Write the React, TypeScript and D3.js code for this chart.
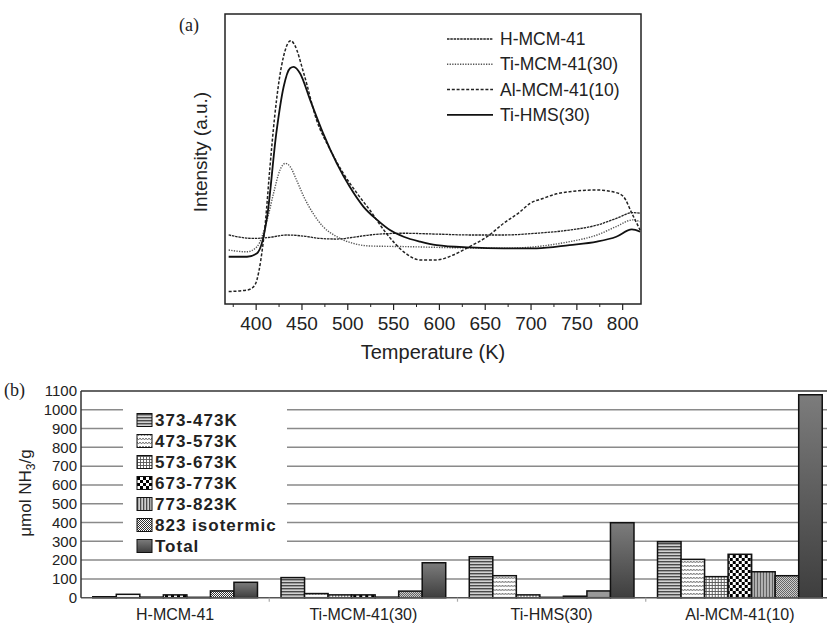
import { useLayoutEffect } from 'react';
import * as d3 from 'd3';

// (a) TPD curves: [temperature K, intensity a.u.]
const hMcm41Curve: [number, number][] = [
  [370, 23.8], [397, 22.6], [415, 23.0], [433, 23.8], [452, 23.4], [470, 22.6], [488, 22.4],
  [506, 23.0], [524, 23.8], [561, 24.4], [597, 24.1], [633, 23.8], [670, 23.8], [706, 24.4],
  [742, 25.5], [772, 27.2], [793, 29.5], [811, 31.5], [819, 31.3],
];
const tiMcm41Curve: [number, number][] = [
  [370, 18.6], [390, 18.0], [401, 19.8], [412, 29.0], [419, 38.2], [426, 46.2], [432, 48.5],
  [437, 47.4], [444, 42.8], [452, 37.0], [462, 31.3], [473, 26.7], [488, 23.2], [506, 20.9],
  [524, 20.0], [561, 19.8], [633, 19.3], [670, 19.2], [706, 19.8], [742, 21.5], [772, 23.8],
  [793, 26.7], [811, 29.0], [819, 28.4],
];
const alMcm41Curve: [number, number][] = [
  [370, 4.3], [390, 4.8], [396, 5.6], [401, 8.5], [405, 15], [410, 28], [415, 47], [420, 64],
  [425, 77], [430, 85.5], [436, 90.5], [438, 90.8], [442, 89.3], [452, 79.5], [466, 63.4],
  [481, 53.1], [495, 45.1], [510, 38.2], [524, 32.4], [542, 24.4], [561, 18.0], [579, 15.2],
  [597, 15.2], [615, 16.9], [633, 19.8], [652, 23.2], [670, 27.8], [688, 31.8], [699, 34.7],
  [713, 36.4], [728, 38.0], [742, 38.7], [772, 39.3], [793, 38.4], [801, 37.0], [810, 31.3],
  [819, 25.5],
];
const tiHmsCurve: [number, number][] = [
  [370, 16.3], [390, 16.3], [401, 17.5], [412, 30.1], [422, 58.9], [430, 74.9], [437, 81.3],
  [441, 81.8], [448, 79.5], [459, 70.3], [473, 58.9], [488, 48.5], [502, 40.5], [517, 33.6],
  [532, 29.0], [546, 25.5], [561, 23.2], [579, 21.5], [597, 20.3], [633, 19.5], [670, 19.2],
  [706, 19.2], [742, 20.3], [772, 21.5], [793, 23.2], [810, 25.7], [819, 24.9],
];
const tempTicks = [400, 450, 500, 550, 600, 650, 700, 750, 800];
const tempMinor = [375, 425, 475, 525, 575, 625, 675, 725, 775];

// (b) NH3 amounts, µmol/g
const catalysts = ['H-MCM-41', 'Ti-MCM-41(30)', 'Ti-HMS(30)', 'Al-MCM-41(10)'];
const ranges = ['373-473K', '473-573K', '573-673K', '673-773K', '773-823K', '823 isotermic', 'Total'];
const hMcm41Bars = [5, 18, 3, 15, 2, 36, 82];
const tiMcm41Bars = [107, 22, 15, 15, 3, 35, 186];
const tiHmsBars = [218, 117, 15, 2, 8, 36, 399];
const alMcm41Bars = [298, 204, 112, 231, 138, 117, 1080];
const nh3Ticks = [0, 100, 200, 300, 400, 500, 600, 700, 800, 900, 1000, 1100];

const curves = [
  { name: 'H-MCM-41', data: hMcm41Curve, dash: '2.5 0.8', color: '#222', w: 1.3 },
  { name: 'Ti-MCM-41(30)', data: tiMcm41Curve, dash: '1.3 1.3', color: '#555', w: 1.4 },
  { name: 'Al-MCM-41(10)', data: alMcm41Curve, dash: '3 1.8', color: '#222', w: 1.5 },
  { name: 'Ti-HMS(30)', data: tiHmsCurve, dash: null, color: '#111', w: 1.8 },
];
const barRows = [hMcm41Bars, tiMcm41Bars, tiHmsBars, alMcm41Bars];
const fills = ['url(#p1)', 'url(#p2)', 'url(#p3)', 'url(#p4)', 'url(#p5)', 'url(#p6)', 'url(#gTot)'];

const sans = '"Liberation Sans", Arial, sans-serif';
const serif = '"Liberation Serif", "Times New Roman", serif';

export default function App() {
  useLayoutEffect(() => {
    document.body.style.margin = '0';
  }, []);

  // top panel
  const tx = d3.scaleLinear().domain([366, 820]).range([225, 641]);
  const ty = d3.scaleLinear().domain([0, 100]).range([304, 14]);
  const line = d3.line<[number, number]>()
    .x(d => tx(d[0]))
    .y(d => ty(d[1]))
    .curve(d3.curveMonotoneX);

  // bottom panel
  const x0 = d3.scaleBand().domain(catalysts).range([81, 834]);
  const x1 = d3.scaleBand().domain(ranges).range([0, x0.bandwidth()]).paddingOuter(0.5);
  const by = d3.scaleLinear().domain([0, 1100]).range([597.7, 391]);

  return (
    <svg width={827} height={623} style={{ display: 'block', background: '#fff' }}>
      <defs>
        <clipPath id="plotA"><rect x={225} y={14} width={416} height={290} /></clipPath>
        <pattern id="p1" patternUnits="userSpaceOnUse" width={4} height={3}>
          <rect width={4} height={3} fill="#d2d2d2" />
          <rect width={4} height={1.4} fill="#4a4a4a" />
        </pattern>
        <pattern id="p2" patternUnits="userSpaceOnUse" width={6} height={4}>
          <rect width={6} height={4} fill="#fff" />
          <path d="M0 1 L1.5 3 L3 1 L4.5 3 L6 1" fill="none" stroke="#666" strokeWidth={0.9} />
        </pattern>
        <pattern id="p3" patternUnits="userSpaceOnUse" width={3} height={3}>
          <rect width={3} height={3} fill="#fff" />
          <path d="M0.5 0 V3 M0 0.5 H3" stroke="#555" strokeWidth={0.9} />
        </pattern>
        <pattern id="p4" patternUnits="userSpaceOnUse" width={6} height={6}>
          <rect width={6} height={6} fill="#fff" />
          <rect width={3} height={3} fill="#000" />
          <rect x={3} y={3} width={3} height={3} fill="#000" />
        </pattern>
        <pattern id="p5" patternUnits="userSpaceOnUse" width={3} height={3}>
          <rect width={3} height={3} fill="#cfcfcf" />
          <rect width={1.3} height={3} fill="#4a4a4a" />
        </pattern>
        <pattern id="p6" patternUnits="userSpaceOnUse" width={2} height={2}>
          <rect width={2} height={2} fill="#fff" />
          <rect width={1} height={1} fill="#333" />
          <rect x={1} y={1} width={1} height={1} fill="#333" />
        </pattern>
        <linearGradient id="gTot" x1="0" y1="0" x2="0" y2="1">
          <stop offset="0" stopColor="#7c7c7c" />
          <stop offset="1" stopColor="#3e3e3e" />
        </linearGradient>
      </defs>

      {/* ---- (a) ---- */}
      <text x={179} y={31} fontFamily={serif} fontSize={18} fill="#222">(a)</text>
      <g clipPath="url(#plotA)">
        {curves.map(c => (
          <path key={c.name} d={line(c.data) ?? ''} fill="none" stroke={c.color}
            strokeWidth={c.w} strokeDasharray={c.dash ?? undefined} />
        ))}
      </g>
      <rect x={225} y={14} width={416} height={290} fill="none" stroke="#222" strokeWidth={1.5} />
      {tempTicks.map(t => (
        <g key={t}>
          <line x1={tx(t)} x2={tx(t)} y1={304} y2={310} stroke="#222" strokeWidth={1.2} />
          <text x={tx(t)} y={330} textAnchor="middle" fontFamily={sans} fontSize={19} fill="#222">{t}</text>
        </g>
      ))}
      {tempMinor.map(t => (
        <line key={t} x1={tx(t)} x2={tx(t)} y1={304} y2={307} stroke="#222" strokeWidth={1} />
      ))}
      <text x={433} y={359} textAnchor="middle" fontFamily={sans} fontSize={20} fill="#222">Temperature (K)</text>
      <text transform="translate(207,152) rotate(-90)" textAnchor="middle" fontFamily={sans}
        fontSize={19} fill="#222">Intensity (a.u.)</text>
      {curves.map((c, i) => (
        <g key={c.name} transform={`translate(0,${39 + i * 25.3})`}>
          <line x1={447} x2={493} y1={0} y2={0} stroke={c.color} strokeWidth={c.w}
            strokeDasharray={c.dash ?? undefined} />
          <text x={500} y={6} fontFamily={sans} fontSize={17.5} fill="#222">{c.name}</text>
        </g>
      ))}

      {/* ---- (b) ---- */}
      <text x={4} y={396} fontFamily={serif} fontSize={18} fill="#222">(b)</text>
      {nh3Ticks.slice(1, -1).map(v => (
        <line key={v} x1={81} x2={827} y1={by(v)} y2={by(v)} stroke="#8a8a8a" strokeWidth={1.5} />
      ))}
      <line x1={81} x2={827} y1={by(1100)} y2={by(1100)} stroke="#333" strokeWidth={1.5} />
      <rect x={123} y={398} width={164} height={155} fill="#fff" />
      {catalysts.map((c, ci) => (
        <g key={c} transform={`translate(${x0(c)},0)`}>
          {ranges.map((r, ri) => (
            <rect key={r} x={x1(r)} width={x1.bandwidth()} y={by(barRows[ci][ri])}
              height={by(0) - by(barRows[ci][ri])} fill={fills[ri]} stroke="#111" strokeWidth={1.5} />
          ))}
          <text x={x0.bandwidth() / 2} y={620} textAnchor="middle" fontFamily={sans} fontSize={16} fill="#222">{c}</text>
        </g>
      ))}
      <line x1={81} x2={827} y1={by(0)} y2={by(0)} stroke="#555" strokeWidth={1.5} />
      {catalysts.slice(1).map(c => (
        <line key={c} x1={x0(c)} x2={x0(c)} y1={by(0)} y2={by(0) + 4} stroke="#aaa" strokeWidth={1.2} />
      ))}
      <line x1={81} x2={81} y1={by(1100)} y2={by(0)} stroke="#333" strokeWidth={1.5} />
      {nh3Ticks.map(v => (
        <text key={v} x={77} y={by(v)} dy="0.35em" textAnchor="end" fontFamily={sans} fontSize={15} fill="#222">{v}</text>
      ))}
      <text transform="translate(31,493) rotate(-90)" textAnchor="middle" fontFamily={sans} fontSize={17} fill="#222">
        μmol NH<tspan dy={4} fontSize={12}>3</tspan><tspan dy={-4}>/g</tspan>
      </text>
      {ranges.map((r, i) => (
        <g key={r} transform={`translate(137,${420 + i * 21})`}>
          <rect x={0} y={-6.5} width={15} height={13} fill={fills[i]} stroke="#111" strokeWidth={1} />
          <text x={18} y={6} fontFamily={sans} fontSize={17} fontWeight="bold" letterSpacing={1} fill="#222">{r}</text>
        </g>
      ))}
    </svg>
  );
}
